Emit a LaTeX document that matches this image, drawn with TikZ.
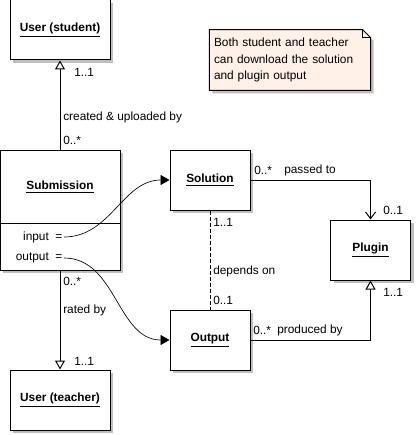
\documentclass[tikz,border=0pt]{standalone}
\usepackage{fontspec}
\setmainfont{Liberation Sans}
\usetikzlibrary{arrows.meta, shadows, backgrounds}
\definecolor{notefill}{RGB}{255,240,232}

\begin{document}
\begin{tikzpicture}[
  x=0.75pt, y=-0.75pt,
  font=\fontsize{8.9}{10}\selectfont,
  cls/.style={draw, line width=0.75pt, fill=white, minimum width=60pt, minimum height=45pt,
              font=\fontsize{8.9}{10}\selectfont\bfseries,
              drop shadow={shadow xshift=2.25pt, shadow yshift=-2.25pt, fill=black!25, opacity=1}},
  attr/.style={anchor=east, inner sep=1pt},
  mult/.style={anchor=west, inner sep=0pt},
  assoc/.style={line width=0.75pt},
  gen/.style={assoc, -{Triangle[open, length=6.75pt, width=7.5pt]}},
  nav/.style={assoc, -{Straight Barb[length=5pt, width=7.5pt]}},
  link/.style={line width=0.5pt, -{Triangle[length=6.75pt, width=7.5pt]}}
]
\useasboundingbox (0,0) rectangle (415,435);

\node[cls, minimum width=75pt] (student) at (60,30) {\underline{User (student)}};
\node[cls, minimum width=75pt] (teacher) at (60,400) {\underline{User (teacher)}};
\node[cls, minimum width=90pt, minimum height=90pt] (sub) at (60,210) {};
\node[font=\fontsize{8.9}{10}\selectfont\bfseries] (subname) at (60,187) {\underline{Submission}};
\coordinate (div) at (0,223);
\draw[assoc] (sub.west |- div) -- (sub.east |- div);
\node[attr] (inp) at (64,237) {input\ \ =};
\node[attr] (outattr) at (64,258) {output\ \ =};

\node[cls] (sol) at (210,180) {\underline{Solution}};
\node[cls] (outp) at (210,340) {\underline{Output}};
\node[cls] (plugin) at (370.5,250) {\underline{Plugin}};

\node[minimum width=120pt, minimum height=45pt, align=left, text width=114pt,
      font=\fontsize{8.9}{12.4}\selectfont] (note) at (290,60)
  {Both student and teacher\\can download the solution\\and plugin output};
\begin{scope}[on background layer]
\filldraw[assoc, fill=notefill, drop shadow={shadow xshift=2.25pt, shadow yshift=-2.25pt, fill=black!25, opacity=1}]
  (note.north west) -- ([xshift=-6pt]note.north east) -- ([yshift=-6pt]note.north east)
  -- (note.south east) -- (note.south west) -- cycle;
\draw[line width=0.5pt] ([xshift=-6pt]note.north east) |- ([yshift=-6pt]note.north east);
\end{scope}

\draw[gen] (sub.north) -- (student.south);
\draw[gen] (sub.south) -- (teacher.north);
\draw[nav] (sol.east) -| (plugin.north);
\draw[gen] (outp.east) -| (plugin.south);
\draw[assoc, dash pattern=on 3pt off 1.5pt] (sol.south) -- (outp.north);
\draw[link] (inp.east) to[out=0, in=180] (sol.west);
\draw[link] (outattr.east) to[out=0, in=180] (outp.west);

\node[mult] at (74,72) {1..1};
\node[mult] at (63,117) {created \& uploaded by};
\node[mult] at (63,140) {0..*};
\node[mult] at (63,281) {0..*};
\node[mult] at (63,310) {rated by};
\node[mult] at (74,361) {1..1};
\node[mult] at (254,170) {0..*};
\node[mult] at (284,170) {passed to};
\node[mult] at (383,210) {0..1};
\node[mult] at (213,222) {1..1};
\node[mult] at (213,271) {depends on};
\node[mult] at (213,300) {0..1};
\node[mult] at (253,330) {0..*};
\node[mult] at (277,330) {produced by};
\node[mult] at (383,292) {1..1};
\end{tikzpicture}
\end{document}
